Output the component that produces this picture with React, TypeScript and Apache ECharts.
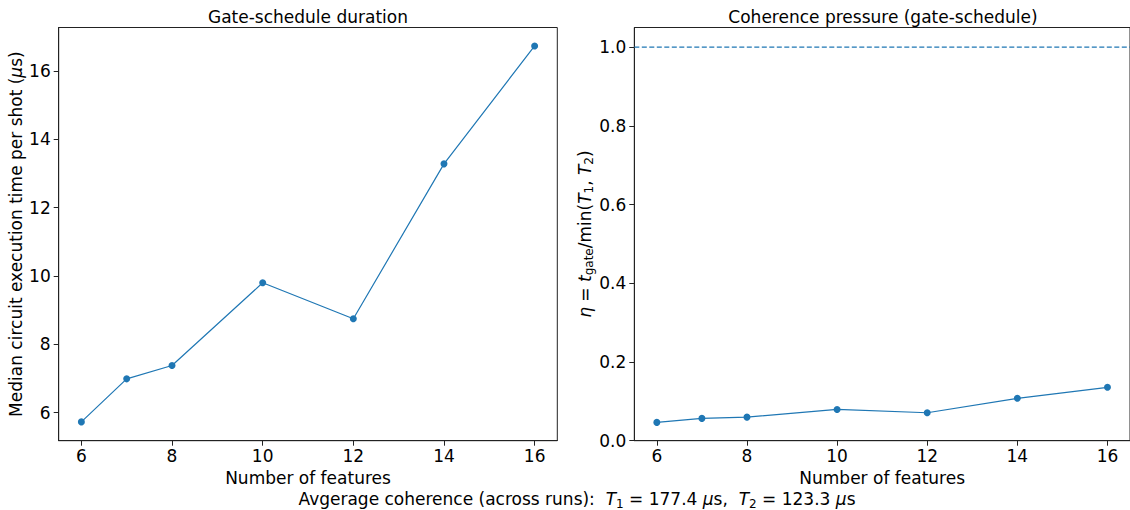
import React, { useEffect, useRef } from "react";
import * as echarts from "echarts";

const features = [6, 7, 8, 10, 12, 14, 16];
const duration = [5.73, 6.99, 7.38, 9.8, 8.75, 13.28, 16.73];
const eta = [0.0465, 0.0567, 0.0599, 0.0795, 0.071, 0.1077, 0.1357];
const xTicks = [6, 8, 10, 12, 14, 16];
const yTicksLeft = [6, 8, 10, 12, 14, 16];
const yTicksRight = [0, 0.2, 0.4, 0.6, 0.8, 1.0];
const xLim = [5.5, 16.5];
const threshold = 1.0;

const FONT = "DejaVu Sans";
const BLUE = "#1f77b4";
const FS = 17;
const SUB = 12;

const richStyles = {
  i: { fontStyle: "italic", fontFamily: FONT, fontSize: FS, color: "#000", lineHeight: 21 },
  n: { fontFamily: FONT, fontSize: FS, color: "#000", lineHeight: 21 },
  sub: { fontFamily: FONT, fontSize: SUB, color: "#000", lineHeight: 12, padding: [9, 0, 0, 0] },
};

export default function App() {
  const ref = useRef<HTMLDivElement>(null);
  useEffect(() => {
    if (!ref.current) return;
    const chart = echarts.init(ref.current, null, { renderer: "svg" });
    const axisLine = { show: true, lineStyle: { color: "#222", width: 1 } };
    const axisTick = (vals: number[]) => ({
      show: true,
      length: 5,
      lineStyle: { color: "#222", width: 1 },
      customValues: vals,
    });
    const labelBase = { fontFamily: FONT, fontSize: FS, color: "#000" };
    const xAxisCommon = (gridIndex: number) => ({
      type: "value",
      gridIndex,
      min: xLim[0],
      max: xLim[1],
      splitLine: { show: false },
      axisLine: { ...axisLine, onZero: false },
      axisTick: axisTick(xTicks),
      axisLabel: { ...labelBase, margin: 7, customValues: xTicks },
      name: "Number of features",
      nameLocation: "middle",
      nameGap: 22,
      nameTextStyle: { fontFamily: FONT, fontSize: FS, color: "#000" },
    });
    chart.setOption({
      animation: false,
      backgroundColor: "#fff",
      grid: [
        { left: 58.7, top: 27.5, width: 498.6, height: 413.2, show: true, borderColor: "#222", borderWidth: 1 },
        { left: 634.3, top: 27.5, width: 498.3, height: 413.2, show: true, borderColor: "#222", borderWidth: 1 },
      ],
      xAxis: [xAxisCommon(0), xAxisCommon(1)],
      yAxis: [
        {
          type: "value",
          gridIndex: 0,
          min: 5.18,
          max: 17.27,
          splitLine: { show: false },
          axisLine,
          axisTick: axisTick(yTicksLeft),
          axisLabel: { ...labelBase, margin: 8, customValues: yTicksLeft },
          name: "{n|Median circuit execution time per shot (}{i|μ}{n|s)}",
          nameLocation: "middle",
          nameRotate: 90,
          nameGap: 32,
          nameTextStyle: { rich: richStyles, fontFamily: FONT, fontSize: FS, color: "#000" },
        },
        {
          type: "value",
          gridIndex: 1,
          min: 0,
          max: 1.05,
          splitLine: { show: false },
          axisLine,
          axisTick: axisTick(yTicksRight),
          axisLabel: {
            ...labelBase,
            margin: 8,
            customValues: yTicksRight,
            formatter: (v: number) => v.toFixed(1),
          },
          name: "{i|η}{n| = }{i|t}{sub|gate}{n|/min(}{i|T}{sub|1}{n|, }{i|T}{sub|2}{n|)}",
          nameLocation: "middle",
          nameRotate: 90,
          nameGap: 35,
          nameTextStyle: { rich: richStyles, fontFamily: FONT, fontSize: FS, color: "#000" },
        },
      ],
      series: [
        {
          type: "line",
          xAxisIndex: 0,
          yAxisIndex: 0,
          data: features.map((f, i) => [f, duration[i]]),
          symbol: "circle",
          symbolSize: 7,
          itemStyle: { color: BLUE },
          lineStyle: { color: BLUE, width: 1.2 },
        },
        {
          type: "line",
          xAxisIndex: 1,
          yAxisIndex: 1,
          data: xLim.map((x) => [x, threshold]),
          symbol: "none",
          silent: true,
          lineStyle: { color: BLUE, width: 1.2, type: [5, 2.5] },
        },
        {
          type: "line",
          xAxisIndex: 1,
          yAxisIndex: 1,
          data: features.map((f, i) => [f, eta[i]]),
          symbol: "circle",
          symbolSize: 7,
          itemStyle: { color: BLUE },
          lineStyle: { color: BLUE, width: 1.2 },
        },
      ],
      graphic: [
        {
          type: "text",
          x: 308,
          y: 17,
          style: {
            text: "Gate-schedule duration",
            align: "center",
            verticalAlign: "middle",
            fontFamily: FONT,
            fontSize: FS,
            fill: "#000",
          },
        },
        {
          type: "text",
          x: 883,
          y: 17,
          style: {
            text: "Coherence pressure (gate-schedule)",
            align: "center",
            verticalAlign: "middle",
            fontFamily: FONT,
            fontSize: FS,
            fill: "#000",
          },
        },
        {
          type: "text",
          x: 577,
          y: 499,
          style: {
            text:
              "{n|Avgerage coherence (across runs):  }{i|T}{sub|1}{n| = 177.4 }{i|μ}{n|s,  }{i|T}{sub|2}{n| = 123.3 }{i|μ}{n|s}",
            rich: richStyles,
            align: "center",
            verticalAlign: "middle",
            fontFamily: FONT,
            fontSize: FS,
          },
        },
      ],
    });
    return () => chart.dispose();
  }, []);
  return (
    <div
      ref={ref}
      style={{ position: "fixed", left: 0, top: 0, width: 1130, height: 510 }}
    />
  );
}
